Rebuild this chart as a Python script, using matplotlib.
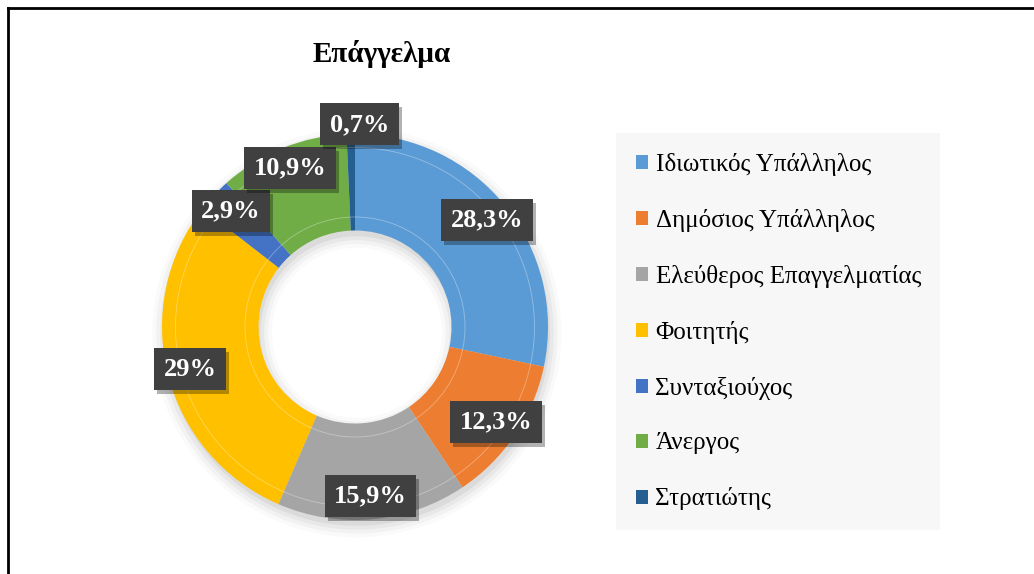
import matplotlib
matplotlib.use("Agg")
import matplotlib.pyplot as plt
import matplotlib.patches as mpatches
from matplotlib.transforms import offset_copy
import numpy as np

plt.rcParams['font.family'] = ['Liberation Serif', 'DejaVu Serif']

# data
categories = ["Ιδιωτικός Υπάλληλος", "Δημόσιος Υπάλληλος", "Ελεύθερος Επαγγελματίας",
              "Φοιτητής", "Συνταξιούχος", "Άνεργος", "Στρατιώτης"]
values = [28.3, 12.3, 15.9, 29.0, 2.9, 10.9, 0.7]
value_labels = ["28,3%", "12,3%", "15,9%", "29%", "2,9%", "10,9%", "0,7%"]
colors = ["#5B9BD5", "#ED7D31", "#A5A5A5", "#FFC000", "#4472C4", "#70AD47", "#255E91"]
title = "Επάγγελμα"

W, H = 1034, 574
fig = plt.figure(figsize=(W / 100, H / 100), dpi=100)
fig.patch.set_facecolor("white")

# pie axes placed so the ring centre sits at (355, 327) px with radius 193 px
cx, cy, R = 355, 327, 193
lim = 1.3
side = 2 * lim * R
ax = fig.add_axes([(cx - side / 2) / W, (H - cy - side / 2) / H, side / W, side / H])

# soft shadow under the ring
for i, a in enumerate([0.05, 0.04, 0.03, 0.02]):
    ax.add_patch(mpatches.Wedge((0.01, -0.03), 1.0 + 0.02 * i, 0, 360, width=0.5 + 0.04 * i,
                                facecolor="black", alpha=a, lw=0))

wedges, _ = ax.pie(values, colors=colors, startangle=90, counterclock=False,
                   radius=1.0, wedgeprops=dict(width=0.5, linewidth=0))
# faint bevel lines
for r in (0.93, 0.57):
    ax.add_patch(mpatches.Circle((0, 0), r, fill=False, ec="white", lw=0.6, alpha=0.35))

ax.set_xlim(-lim, lim)
ax.set_ylim(-lim, lim)
ax.set_aspect("equal")
ax.axis("off")

# data labels (radius as fraction of outer ring, small pixel nudge for the tiny slice)
label_r = [0.88, 0.88, 0.88, 0.88, 0.88, 0.89, 1.05]
label_dx = [0, 0, 0, 0, 0, 0, 9]
for w, lab, r, dx in zip(wedges, value_labels, label_r, label_dx):
    ang = np.deg2rad((w.theta1 + w.theta2) / 2)
    x, y = r * np.cos(ang), r * np.sin(ang)
    shadow_tr = offset_copy(ax.transData, fig=fig, x=dx + 3, y=-4, units="dots")
    text_tr = offset_copy(ax.transData, fig=fig, x=dx, y=0, units="dots")
    ax.text(x, y, lab, transform=shadow_tr, ha="center", va="center", fontsize=19,
            fontweight="bold", color="none",
            bbox=dict(boxstyle="square,pad=0.36", fc="black", ec="none", alpha=0.3))
    ax.text(x, y, lab, transform=text_tr, ha="center", va="center", fontsize=19,
            fontweight="bold", color="white",
            bbox=dict(boxstyle="square,pad=0.36", fc="#404040", ec="none"))

fig.text(382 / W, 1 - 54 / H, title, ha="center", va="center", fontsize=21,
         fontweight="bold")

leg = fig.legend(wedges, categories, loc="upper left",
                 bbox_to_anchor=(616 / W, 1 - 133 / H), fontsize=18,
                 frameon=True, fancybox=False, facecolor="#f7f7f7", edgecolor="none",
                 framealpha=1, handlelength=0.5, handleheight=0.5, handletextpad=0.3,
                 labelspacing=1.32, borderpad=0.78, borderaxespad=0)

# outer frame (top and left edges visible)
fig.add_artist(plt.Line2D([8 / W, 1], [1 - 8 / H, 1 - 8 / H], color="black", lw=2,
                          transform=fig.transFigure))
fig.add_artist(plt.Line2D([8 / W, 8 / W], [0, 1 - 8 / H], color="black", lw=2,
                          transform=fig.transFigure))

fig.savefig("out.png", dpi=100)
